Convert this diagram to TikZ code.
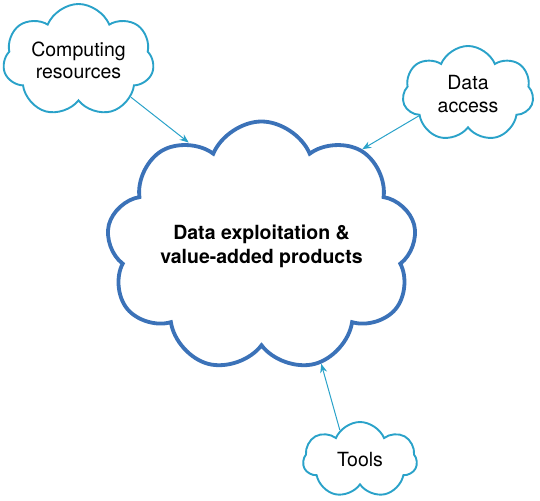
\documentclass[tikz,border=0pt]{standalone}
\usepackage{fontspec}
\setmainfont{TeX Gyre Heros}
\usetikzlibrary{shapes.symbols,arrows.meta}
\definecolor{mainblue}{HTML}{3B72B8}
\definecolor{cyanline}{HTML}{2AA2C9}
\begin{document}
\begin{tikzpicture}[x=1pt,y=-1pt,
  bigcloud/.style={cloud, cloud puffs=9, cloud puff arc=135, cloud ignores aspect,
    draw=mainblue, line width=3.8pt, fill=white, inner sep=0pt, align=center,
    font=\fontsize{19.5}{24}\selectfont\bfseries},
  smallcloud/.style={cloud, cloud ignores aspect, cloud puff arc=135, draw=cyanline,
    line width=1.9pt, fill=white, inner sep=0pt, align=center,
    font=\fontsize{19.5}{22.5}\selectfont},
  link/.style={draw=cyanline, line width=1pt, -{Stealth[length=9pt,width=7pt]}}]
\useasboundingbox (0,0) rectangle (540,500);
\node[bigcloud, minimum width=310pt, minimum height=250pt, shape border rotate=10] (main) at (261.5,246.5)
  {Data exploitation \&\\value-added products};
\node[smallcloud, cloud puffs=7, minimum width=151pt, minimum height=113pt, shape border rotate=15] (cr) at (78.5,60.5)
  {Computing\\resources};
\node[smallcloud, cloud puffs=7, minimum width=131pt, minimum height=96pt] (da) at (468,94)
  {Data\\access};
\node[smallcloud, cloud puffs=7, minimum width=114pt, minimum height=76pt] (tl) at (360,460)
  {Tools};
\draw[link] (cr.-35) -- (main.125);
\draw[link] (da.-156) -- (main.44);
\draw[link] (tl.124) -- (main.-63);
\end{tikzpicture}
\end{document}
